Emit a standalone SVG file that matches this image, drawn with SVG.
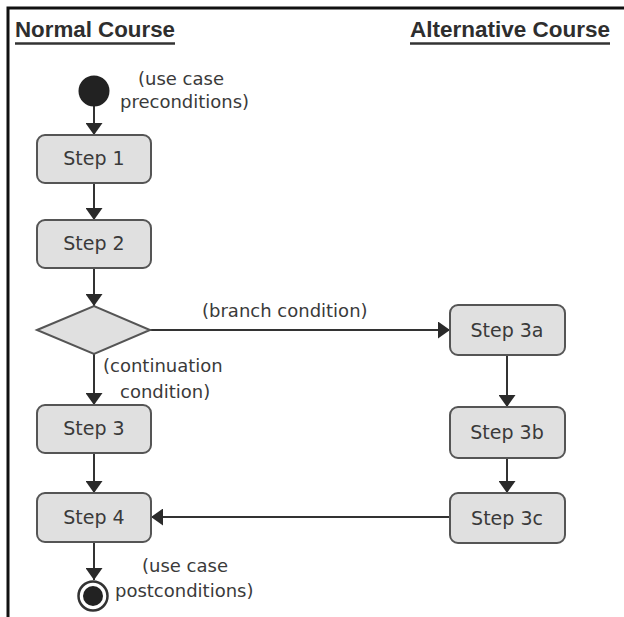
<svg xmlns="http://www.w3.org/2000/svg" width="624" height="617" viewBox="0 0 624 617">
  <defs>
    <style>
      .frame { fill: none; stroke: #111; stroke-width: 3; }
      .head { font-family: "Liberation Sans", Arial, sans-serif; font-weight: bold; font-size: 22px; fill: #2e2e2e; }
      .uline { stroke: #333; stroke-width: 2.5; }
      .box { fill: #e0e0e0; stroke: #555; stroke-width: 2; }
      .lbl { font-family: "DejaVu Sans", sans-serif; font-size: 19px; fill: #3a3a3a; text-anchor: middle; }
      .note { font-family: "DejaVu Sans", sans-serif; font-size: 18px; fill: #3a3a3a; }
      .edge { fill: none; stroke: #333; stroke-width: 2; marker-end: url(#arrow); }
    </style>
    <marker id="arrow" viewBox="0 0 12 17" refX="12" refY="8.5" markerWidth="12" markerHeight="17" markerUnits="userSpaceOnUse" orient="auto">
      <path d="M0,0 L12,8.5 L0,17 Z" fill="#2a2a2a"/>
    </marker>
  </defs>

  <rect width="624" height="617" fill="#ffffff"/>
  <path class="frame" d="M8,617 V8 H624"/>

  <!-- swimlane headers -->
  <g id="header-normal">
    <text class="head" x="15" y="37" textLength="160" lengthAdjust="spacingAndGlyphs">Normal Course</text>
    <line class="uline" x1="15" y1="43.5" x2="175" y2="43.5"/>
  </g>
  <g id="header-alternative">
    <text class="head" x="410" y="37" textLength="200" lengthAdjust="spacingAndGlyphs">Alternative Course</text>
    <line class="uline" x1="410" y1="43.5" x2="610" y2="43.5"/>
  </g>

  <!-- connectors -->
  <g id="connectors">
    <line class="edge" x1="94" y1="106" x2="94" y2="135"/>
    <line class="edge" x1="94" y1="183" x2="94" y2="220"/>
    <line class="edge" x1="94" y1="268" x2="94" y2="306"/>
    <line class="edge" x1="94" y1="354" x2="94" y2="405"/>
    <line class="edge" x1="94" y1="453" x2="94" y2="493"/>
    <line class="edge" x1="94" y1="542" x2="94" y2="580"/>
    <line class="edge" x1="150" y1="330" x2="450" y2="330"/>
    <line class="edge" x1="507" y1="355" x2="507" y2="407"/>
    <line class="edge" x1="507" y1="458" x2="507" y2="493"/>
    <line class="edge" x1="450" y1="517" x2="151" y2="517"/>
  </g>

  <!-- start node -->
  <g id="start">
    <circle cx="94" cy="91" r="15.5" fill="#222"/>
    <text class="note" x="138" y="85">(use case</text>
    <text class="note" x="120" y="108">preconditions)</text>
  </g>

  <g id="step1">
    <rect class="box" x="37" y="135" width="114" height="48" rx="8"/>
    <text class="lbl" x="94" y="165">Step 1</text>
  </g>
  <g id="step2">
    <rect class="box" x="37" y="220" width="114" height="48" rx="8"/>
    <text class="lbl" x="94" y="250">Step 2</text>
  </g>

  <g id="decision">
    <polygon class="box" points="37,330 94,306 150,330 94,354"/>
    <text class="note" x="202" y="317">(branch condition)</text>
    <text class="note" x="103" y="372">(continuation</text>
    <text class="note" x="120" y="398">condition)</text>
  </g>

  <g id="step3">
    <rect class="box" x="37" y="405" width="114" height="48" rx="8"/>
    <text class="lbl" x="94" y="435">Step 3</text>
  </g>
  <g id="step4">
    <rect class="box" x="37" y="493" width="114" height="49" rx="8"/>
    <text class="lbl" x="94" y="524">Step 4</text>
  </g>

  <!-- end node -->
  <g id="end">
    <circle cx="93" cy="596" r="14.5" fill="#fff" stroke="#333" stroke-width="2.5"/>
    <circle cx="93" cy="596" r="10" fill="#222"/>
    <text class="note" x="142" y="572">(use case</text>
    <text class="note" x="115" y="597">postconditions)</text>
  </g>

  <g id="step3a">
    <rect class="box" x="450" y="305" width="115" height="50" rx="8"/>
    <text class="lbl" x="507" y="337">Step 3a</text>
  </g>
  <g id="step3b">
    <rect class="box" x="450" y="407" width="115" height="51" rx="8"/>
    <text class="lbl" x="507" y="439">Step 3b</text>
  </g>
  <g id="step3c">
    <rect class="box" x="450" y="493" width="115" height="50" rx="8"/>
    <text class="lbl" x="507" y="525">Step 3c</text>
  </g>
</svg>
